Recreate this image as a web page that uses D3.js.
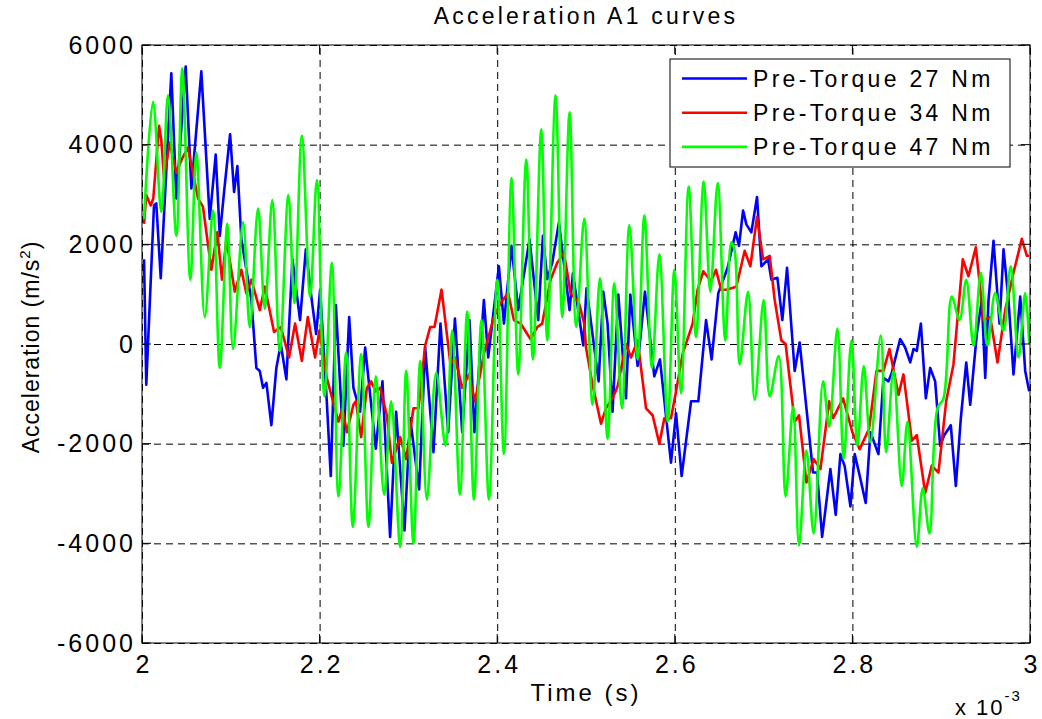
<!DOCTYPE html>
<html lang="en">
<head>
<meta charset="utf-8">
<title>Acceleration A1 curves</title>
<script src="https://d3js.org/d3.v7.min.js"></script>
<style>
  body { margin: 0; background: #fff; }
  text { font-family: "Liberation Sans", Arial, sans-serif; fill: #000; }
  .grid line { stroke: #000; stroke-width: 1; stroke-dasharray: 7,5; }
  .grid path { display: none; }
  .ticklbl path, .ticklbl line { display: none; }
  .curve { fill: none; stroke-width: 2.6px; stroke-linejoin: round; }
</style>
</head>
<body>
<script>

// ---- data (time in ms, i.e. x 10^-3 s ; acceleration in m/s^2) ----
var seriesNames = ["Pre-Torque 27 Nm", "Pre-Torque 34 Nm", "Pre-Torque 47 Nm"];
var seriesColors = ["#0000ff", "#ff0000", "#00ff00"];
var xTicks = [2, 2.2, 2.4, 2.6, 2.8, 3];
var yTicks = [-6000, -4000, -2000, 0, 2000, 4000, 6000];

var torque27 = [[2.0023,1700],[2.0048,-815],[2.0135,2780],[2.0161,2820],[2.0211,1320],[2.0330,5430],[2.0387,2920],[2.0492,5570],[2.0556,3120],[2.0668,5470],[2.0763,2510],[2.0830,3800],[2.0876,2170],[2.0924,3050],[2.0992,4210],[2.1037,3050],[2.1074,3570],[2.1119,2100],[2.1232,880],[2.1288,-480],[2.1326,-540],[2.1363,-880],[2.1401,-780],[2.1457,-1630],[2.1513,-480],[2.1563,0],[2.1626,-710],[2.1694,1700],[2.1780,480],[2.1845,1900],[2.1912,880],[2.1961,200],[2.2006,1090],[2.2081,-1150],[2.2126,-2650],[2.2183,780],[2.2268,-2040],[2.2333,540],[2.2381,-880],[2.2456,-1360],[2.2513,-70],[2.2633,-2100],[2.2708,-750],[2.2794,-3870],[2.2862,-1360],[2.2956,-3740],[2.3020,-1490],[2.3121,-2920],[2.3189,-70],[2.3282,-2170],[2.3361,410],[2.3448,-1770],[2.3524,510],[2.3606,-1770],[2.3688,480],[2.3744,-1770],[2.3850,880],[2.3899,-270],[2.4019,1560],[2.4076,410],[2.4161,1970],[2.4237,680],[2.4364,2100],[2.4462,480],[2.4515,2170],[2.4564,1300],[2.4620,1630],[2.4695,2440],[2.4815,680],[2.4853,1420],[2.4969,-30],[2.5006,1120],[2.5142,-750],[2.5195,1050],[2.5243,410],[2.5299,-1360],[2.5364,990],[2.5450,-1090],[2.5499,990],[2.5581,-440],[2.5664,1050],[2.5769,-650],[2.5833,-310],[2.5957,-2380],[2.6014,-1390],[2.6077,-2650],[2.6183,-1150],[2.6265,-1150],[2.6352,480],[2.6415,-310],[2.6490,1020],[2.6595,1530],[2.6685,2240],[2.6723,1970],[2.6769,2680],[2.6806,2400],[2.6862,2240],[2.6926,2950],[2.6975,1560],[2.7050,1700],[2.7088,1290],[2.7155,1330],[2.7211,480],[2.7264,1530],[2.7350,-540],[2.7406,30],[2.7557,-2580],[2.7602,-2580],[2.7659,-3870],[2.7752,-2510],[2.7812,-3430],[2.7865,-2210],[2.7913,-2450],[2.7978,-3260],[2.8026,-2210],[2.8083,-2650],[2.8150,-3190],[2.8203,-1770],[2.8293,-2210],[2.8350,-680],[2.8406,-750],[2.8443,-580],[2.8538,100],[2.8594,-70],[2.8651,-370],[2.8688,-100],[2.8725,-140],[2.8771,410],[2.8827,-1090],[2.8876,-480],[2.8932,-750],[2.8988,-2040],[2.9034,-1830],[2.9108,-1630],[2.9165,-2850],[2.9221,-1490],[2.9282,-370],[2.9327,-1220],[2.9401,200],[2.9457,880],[2.9496,-680],[2.9533,880],[2.9589,2070],[2.9657,410],[2.9702,1900],[2.9758,880],[2.9814,-610],[2.9890,950],[2.9946,-540],[2.9991,-950]];

var torque34 = [[2.0023,2410],[2.0048,2990],[2.0098,2780],[2.0127,2920],[2.0192,4380],[2.0217,4100],[2.0248,3330],[2.0312,4040],[2.0387,3430],[2.0454,3730],[2.0518,3940],[2.0631,2920],[2.0687,2750],[2.0781,1490],[2.0848,2240],[2.0901,1290],[2.0950,2100],[2.1045,1050],[2.1119,1490],[2.1175,1020],[2.1232,1290],[2.1326,680],[2.1383,1150],[2.1487,240],[2.1563,340],[2.1656,-270],[2.1724,410],[2.1800,-340],[2.1867,540],[2.1949,-270],[2.1998,270],[2.2081,-680],[2.2212,-1560],[2.2257,-1290],[2.2307,-1770],[2.2381,-1220],[2.2408,-1150],[2.2468,-1870],[2.2532,-880],[2.2580,-750],[2.2633,-950],[2.2682,-880],[2.2757,-1430],[2.2814,-2380],[2.2907,-1870],[2.2975,-2310],[2.3057,-1290],[2.3114,-1290],[2.3189,-30],[2.3245,340],[2.3294,340],[2.3373,1090],[2.3474,-410],[2.3524,-270],[2.3606,-880],[2.3682,-610],[2.3750,-1150],[2.3850,-200],[2.3963,540],[2.4037,820],[2.4124,1020],[2.4188,480],[2.4263,410],[2.4375,100],[2.4451,340],[2.4507,410],[2.4601,1290],[2.4676,1630],[2.4752,1830],[2.4826,1020],[2.4921,820],[2.4980,410],[2.5000,-70],[2.5074,-820],[2.5169,-1600],[2.5225,-1290],[2.5299,-1090],[2.5356,-850],[2.5450,0],[2.5507,-270],[2.5581,70],[2.5676,-1290],[2.5750,-1430],[2.5826,-2000],[2.5882,-1490],[2.5957,-1490],[2.6014,-950],[2.6088,-200],[2.6201,410],[2.6257,1090],[2.6321,1460],[2.6408,1260],[2.6464,1490],[2.6521,1090],[2.6580,1090],[2.6693,1150],[2.6787,1870],[2.6851,1560],[2.6926,2550],[2.6994,1700],[2.7069,1770],[2.7125,880],[2.7200,70],[2.7248,0],[2.7350,-1560],[2.7399,-1430],[2.7482,-2780],[2.7564,-2310],[2.7640,-2510],[2.7738,-1150],[2.7783,-1490],[2.7895,-1090],[2.8000,-1770],[2.8082,-2110],[2.8188,-1700],[2.8271,-540],[2.8350,-540],[2.8417,-100],[2.8519,-1020],[2.8575,-610],[2.8669,-1940],[2.8725,-1830],[2.8820,-2990],[2.8894,-2440],[2.8969,-2580],[2.9056,-1150],[2.9138,-410],[2.9243,1700],[2.9307,1360],[2.9390,1940],[2.9477,480],[2.9552,540],[2.9634,-370],[2.9721,680],[2.9814,1430],[2.9908,2110],[2.9965,1770],[2.9991,1770]];

var torque47 = [[2.0023,2510],[2.0124,4860],[2.0217,2650],[2.0293,4990],[2.0387,2170],[2.0454,5530],[2.0544,1290],[2.0612,3840],[2.0707,540],[2.0800,2680],[2.0876,-480],[2.0961,2410],[2.1025,-100],[2.1138,2440],[2.1214,340],[2.1307,2720],[2.1383,710],[2.1468,2890],[2.1552,-140],[2.1648,2990],[2.1716,820],[2.1800,4180],[2.1893,950],[2.1969,3290],[2.2054,-1050],[2.2138,1630],[2.2212,-3060],[2.2299,-170],[2.2374,-3670],[2.2468,-200],[2.2550,-3670],[2.2633,-650],[2.2727,-3020],[2.2806,-1150],[2.2907,-4070],[2.2975,-540],[2.3057,-4010],[2.3133,-340],[2.3208,-3120],[2.3313,-580],[2.3418,-2040],[2.3493,270],[2.3580,-3020],[2.3662,650],[2.3738,-3120],[2.3823,480],[2.3907,-3120],[2.4000,1290],[2.4076,-2210],[2.4161,3330],[2.4237,-610],[2.4327,3700],[2.4402,-310],[2.4496,4310],[2.4564,70],[2.4657,4990],[2.4733,540],[2.4815,4650],[2.4890,340],[2.4980,2510],[2.5074,-1220],[2.5157,1320],[2.5243,-1900],[2.5319,1220],[2.5405,-1290],[2.5488,2380],[2.5581,-310],[2.5657,2580],[2.5743,-480],[2.5826,1800],[2.5920,-1560],[2.5995,1490],[2.6070,-990],[2.6156,3160],[2.6239,140],[2.6325,3260],[2.6400,1050],[2.6483,3230],[2.6569,70],[2.6637,2040],[2.6674,1870],[2.6731,-410],[2.6825,1050],[2.6900,-1120],[2.7001,880],[2.7069,-1050],[2.7170,-240],[2.7248,-3060],[2.7332,-1260],[2.7399,-4040],[2.7482,-2140],[2.7564,-3800],[2.7670,-750],[2.7738,-1660],[2.7831,310],[2.7902,-2310],[2.7989,70],[2.8056,-2040],[2.8128,-440],[2.8203,-1970],[2.8319,170],[2.8380,-2170],[2.8462,-540],[2.8556,-2850],[2.8620,-1560],[2.8725,-4070],[2.8792,-2890],[2.8868,-3800],[2.8958,-1290],[2.9026,-1090],[2.9119,950],[2.9206,480],[2.9282,1290],[2.9364,-30],[2.9446,1430],[2.9521,-30],[2.9608,1020],[2.9702,270],[2.9783,1560],[2.9870,-270],[2.9946,1020],[2.9991,0]];

var allSeries = [torque27, torque34, torque47];

// ---- layout ----
var w = 1042, h = 719;
var margin = {top: 45, right: 12, bottom: 76, left: 142};
var innerWidth = w - margin.left - margin.right;
var innerHeight = h - margin.top - margin.bottom;

var svg = d3.select("body").append("svg")
            .attr("width", w)
            .attr("height", h)
            .style("background", "#fff");

var xScale = d3.scaleLinear().domain([2, 3]).range([0, innerWidth]);
var yScale = d3.scaleLinear().domain([-6000, 6000]).range([innerHeight, 0]);

var g = svg.append("g").attr("transform", `translate(${margin.left},${margin.top})`);

// dashed grid
g.append("g").attr("class", "grid")
 .attr("transform", `translate(0,${innerHeight})`)
 .call(d3.axisBottom(xScale).tickValues(xTicks).tickSize(-innerHeight).tickFormat(""));
g.append("g").attr("class", "grid")
 .call(d3.axisLeft(yScale).tickValues(yTicks).tickSize(-innerWidth).tickFormat(""));

// clip for curves
svg.append("clipPath").attr("id", "plotclip")
   .append("rect").attr("width", innerWidth).attr("height", innerHeight);

// blue/red drawn straight between samples, green (smooth oscillation) with a spline
var lineStraight = d3.line()
                     .x(d => xScale(d[0]))
                     .y(d => yScale(d[1]));
var lineSmooth = d3.line()
                   .x(d => xScale(d[0]))
                   .y(d => yScale(d[1]))
                   .curve(d3.curveCatmullRom.alpha(0.5));

g.append("g").attr("clip-path", "url(#plotclip)")
 .selectAll("path.curve")
 .data(allSeries)
 .join("path")
 .attr("class", "curve")
 .attr("stroke", (d, i) => seriesColors[i])
 .attr("d", (d, i) => i === 2 ? lineSmooth(d) : lineStraight(d));

// box + inward ticks
g.append("rect").attr("width", innerWidth).attr("height", innerHeight)
 .attr("fill", "none").attr("stroke", "#000").attr("stroke-width", 1);

var tickLen = 9;
xTicks.forEach(function(t){
  g.append("line").attr("x1", xScale(t)).attr("x2", xScale(t))
   .attr("y1", innerHeight).attr("y2", innerHeight - tickLen).attr("stroke", "#000");
  g.append("line").attr("x1", xScale(t)).attr("x2", xScale(t))
   .attr("y1", 0).attr("y2", tickLen).attr("stroke", "#000");
});
yTicks.forEach(function(v){
  g.append("line").attr("x1", 0).attr("x2", tickLen)
   .attr("y1", yScale(v)).attr("y2", yScale(v)).attr("stroke", "#000");
  g.append("line").attr("x1", innerWidth).attr("x2", innerWidth - tickLen)
   .attr("y1", yScale(v)).attr("y2", yScale(v)).attr("stroke", "#000");
});

// tick labels (plain hyphen minus like the original)
var fmt = d => String(d);
var xLbl = g.append("g").attr("class", "ticklbl")
 .attr("transform", `translate(0,${innerHeight})`)
 .call(d3.axisBottom(xScale).tickValues(xTicks).tickSize(0).tickPadding(12).tickFormat(fmt));
var yLbl = g.append("g").attr("class", "ticklbl")
 .call(d3.axisLeft(yScale).tickValues(yTicks).tickSize(0).tickPadding(6).tickFormat(fmt));
[xLbl, yLbl].forEach(function(ax){
  ax.attr("font-size", 25).attr("font-family", "Liberation Sans, Arial, sans-serif");
  ax.selectAll("text").attr("font-size", 25).style("letter-spacing", "3px");
});
xLbl.selectAll("text").attr("dx", "1.5px");

// title and axis labels
svg.append("text")
   .attr("x", margin.left + innerWidth / 2).attr("y", 24)
   .attr("text-anchor", "middle")
   .style("font-size", "23px").style("letter-spacing", "3.2px")
   .text("Acceleration A1 curves");

svg.append("text")
   .attr("x", margin.left + innerWidth / 2).attr("y", 701)
   .attr("text-anchor", "middle")
   .style("font-size", "24px").style("letter-spacing", "3px")
   .text("Time (s)");

var expo = svg.append("text")
   .attr("x", 955).attr("y", 715)
   .style("font-size", "22px").style("letter-spacing", "2px");
expo.append("tspan").text("x 10");
expo.append("tspan").attr("dy", -14).style("font-size", "15px").text("-3");

var ylab = svg.append("text")
   .attr("transform", "translate(39,347) rotate(-90)")
   .attr("text-anchor", "middle")
   .style("font-size", "23px").style("letter-spacing", "1px");
ylab.append("tspan").text("Acceleration (m/s");
ylab.append("tspan").attr("dy", -9).style("font-size", "15px").text("2");
ylab.append("tspan").attr("dy", 9).text(")");

// legend
var legend = svg.append("g").attr("transform", "translate(670,59)");
legend.append("rect").attr("width", 340).attr("height", 108)
      .attr("fill", "#fff").attr("stroke", "#000");
seriesNames.forEach(function(name, i){
  var yy = 19.5 + i * 34.2;
  legend.append("line").attr("x1", 12).attr("x2", 77)
        .attr("y1", yy).attr("y2", yy)
        .attr("stroke", seriesColors[i]).attr("stroke-width", 2.6);
  legend.append("text").attr("x", 83).attr("y", yy + 8.5)
        .style("font-size", "23px").style("letter-spacing", "3.3px")
        .text(name);
});

</script>
</body>
</html>
